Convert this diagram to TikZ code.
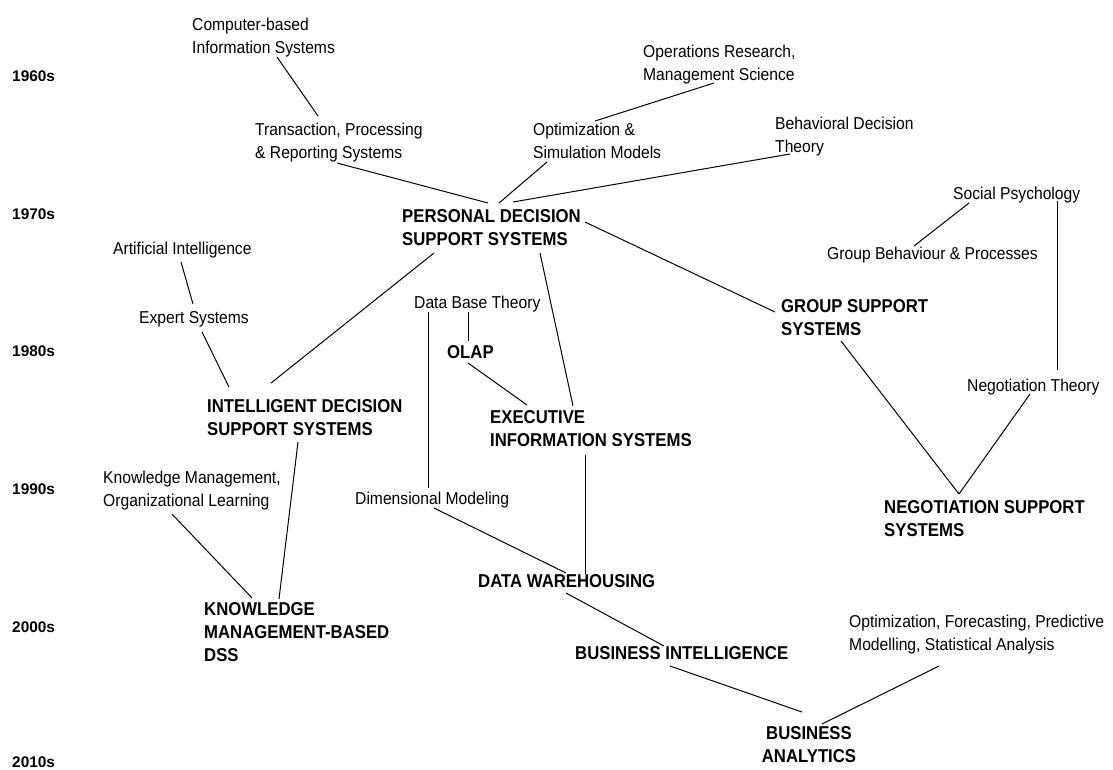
\documentclass[tikz,border=0pt]{standalone}
\usepackage{fontspec}
\setmainfont{Liberation Sans}
\newfontfamily\topicfont[FakeStretch=0.91]{Liberation Sans}
\newfontfamily\systemfont[FakeStretch=0.9]{Liberation Sans}
\tikzset{topic/.style={anchor=base west, inner sep=0pt, align=left,
font=\topicfont\fontsize{17.2}{23.5}\selectfont}}
\tikzset{system/.style={anchor=base west, inner sep=0pt, align=left,
font=\systemfont\bfseries\fontsize{18.6}{23}\selectfont}}
\tikzset{decade/.style={anchor=base west, inner sep=0pt,
font=\bfseries\fontsize{15.4}{18}\selectfont}}
\tikzset{link/.style={line width=1pt}}

\begin{document}
\begin{tikzpicture}[x=1pt,y=-1pt]
        \useasboundingbox (0,0) rectangle (1113,769);

        % decades
        \node[decade] (d60) at (12,81.5) {1960s};
        \node[decade] (d70) at (12,219.5) {1970s};
        \node[decade] (d80) at (12,356.5) {1980s};
        \node[decade] (d90) at (12,494.5) {1990s};
        \node[decade] (d00) at (12,632.5) {2000s};
        \node[decade] (d10) at (12,767) {2010s};

        % fields (anchored on the baseline of the last line)
        \node[topic] (cbis) at (192,53.5) {Computer-based\\Information Systems};
        \node[topic] (tprs) at (255,158.5) {Transaction, Processing\\\& Reporting Systems};
        \node[topic] (orms) at (643,80.5) {Operations Research,\\Management Science};
        \node[topic] (osm) at (533,158.5) {Optimization \&\\Simulation Models};
        \node[topic] (bdt) at (775,152.5) {Behavioral Decision\\Theory};
        \node[topic] (socpsy) at (953,199) {Social Psychology};
        \node[topic] (gbp) at (827,259) {Group Behaviour \& Processes};
        \node[topic] (ai) at (113,254) {Artificial Intelligence};
        \node[topic] (es) at (139,323) {Expert Systems};
        \node[topic] (dbt) at (414,308) {Data Base Theory};
        \node[topic] (negth) at (967,391) {Negotiation Theory};
        \node[topic] (kmol) at (103,506.5) {Knowledge Management,\\Organizational Learning};
        \node[topic] (dimmod) at (355,504) {Dimensional Modeling};
        \node[topic] (ofpm) at (849,650.5) {Optimization, Forecasting, Predictive\\Modelling, Statistical Analysis};

        % systems
        \node[system] (pdss) at (402,245.5) {PERSONAL DECISION\\SUPPORT SYSTEMS};
        \node[system] (gss) at (781,335.5) {GROUP SUPPORT\\SYSTEMS};
        \node[system] (olap) at (447,358.5) {OLAP};
        \node[system] (idss) at (207,435.5) {INTELLIGENT DECISION\\SUPPORT SYSTEMS};
        \node[system] (eis) at (490,446.5) {EXECUTIVE\\INFORMATION SYSTEMS};
        \node[system] (nss) at (884,536.5) {NEGOTIATION SUPPORT\\SYSTEMS};
        \node[system] (dw) at (478,587.5) {DATA WAREHOUSING};
        \node[system] (kmdss) at (204,661.5) {KNOWLEDGE\\MANAGEMENT-BASED\\DSS};
        \node[system] (bi) at (575,659.5) {BUSINESS INTELLIGENCE};
        \node[system, anchor=base, align=center] (ba) at (809,762.5) {BUSINESS\\ANALYTICS};

        % links
        \draw[link] ([shift={(85,3.5)}]cbis.base west) -- ([shift={(63,-42.5)}]tprs.base west);
        \draw[link] ([shift={(82,4.5)}]tprs.base west) -- ([shift={(86,-42.5)}]pdss.base west);
        \draw[link] ([shift={(71,2.5)}]orms.base west) -- ([shift={(62,-37.5)}]osm.base west);
        \draw[link] ([shift={(14,3.5)}]osm.base west) -- ([shift={(97,-42.5)}]pdss.base west);
        \draw[link] ([shift={(15,1.5)}]bdt.base west) -- ([shift={(111,-43.5)}]pdss.base west);
        \draw[link] ([shift={(183,-23.5)}]pdss.base west) -- ([shift={(-6,-23.5)}]gss.base west);
        \draw[link] ([shift={(32,7.5)}]pdss.base west) -- ([shift={(64,-52.5)}]idss.base west);
        \draw[link] ([shift={(138,7.5)}]pdss.base west) -- ([shift={(83,-40.5)}]eis.base west);
        \draw[link] ([shift={(68,8)}]ai.base west) -- ([shift={(54,-19)}]es.base west);
        \draw[link] ([shift={(63,9)}]es.base west) -- ([shift={(22,-48.5)}]idss.base west);
        \draw[link] ([shift={(54,4)}]dbt.base west) -- ([shift={(21,-17.5)}]olap.base west);
        \draw[link] ([shift={(21,4.5)}]olap.base west) -- ([shift={(37,-41.5)}]eis.base west);
        \draw[link] ([shift={(14,4)}]dbt.base west) -- ([shift={(73,-16)}]dimmod.base west);
        \draw[link] ([shift={(16,4)}]socpsy.base west) -- ([shift={(87,-13)}]gbp.base west);
        \draw[link] ([shift={(104,2)}]socpsy.base west) -- ([shift={(90,-21)}]negth.base west);
        \draw[link] ([shift={(60,5.5)}]gss.base west) -- ([shift={(75,-42.5)}]nss.base west);
        \draw[link] ([shift={(63,3)}]negth.base west) -- ([shift={(75,-42.5)}]nss.base west);
        \draw[link] ([shift={(91,6.5)}]idss.base west) -- ([shift={(75,-62.5)}]kmdss.base west);
        \draw[link] ([shift={(69,7.5)}]kmol.base west) -- ([shift={(48,-63.5)}]kmdss.base west);
        \draw[link] ([shift={(95,8.5)}]eis.base west) -- ([shift={(107,-13.5)}]dw.base west);
        \draw[link] ([shift={(79,4)}]dimmod.base west) -- ([shift={(88,-14.5)}]dw.base west);
        \draw[link] ([shift={(88,5.5)}]dw.base west) -- ([shift={(89,-13.5)}]bi.base west);
        \draw[link] ([shift={(95,6.5)}]bi.base west) -- ([shift={(-7,-50.5)}]ba.base);
        \draw[link] ([shift={(90,15.5)}]ofpm.base west) -- ([shift={(13,-38.5)}]ba.base);
    \end{tikzpicture}
\end{document}
